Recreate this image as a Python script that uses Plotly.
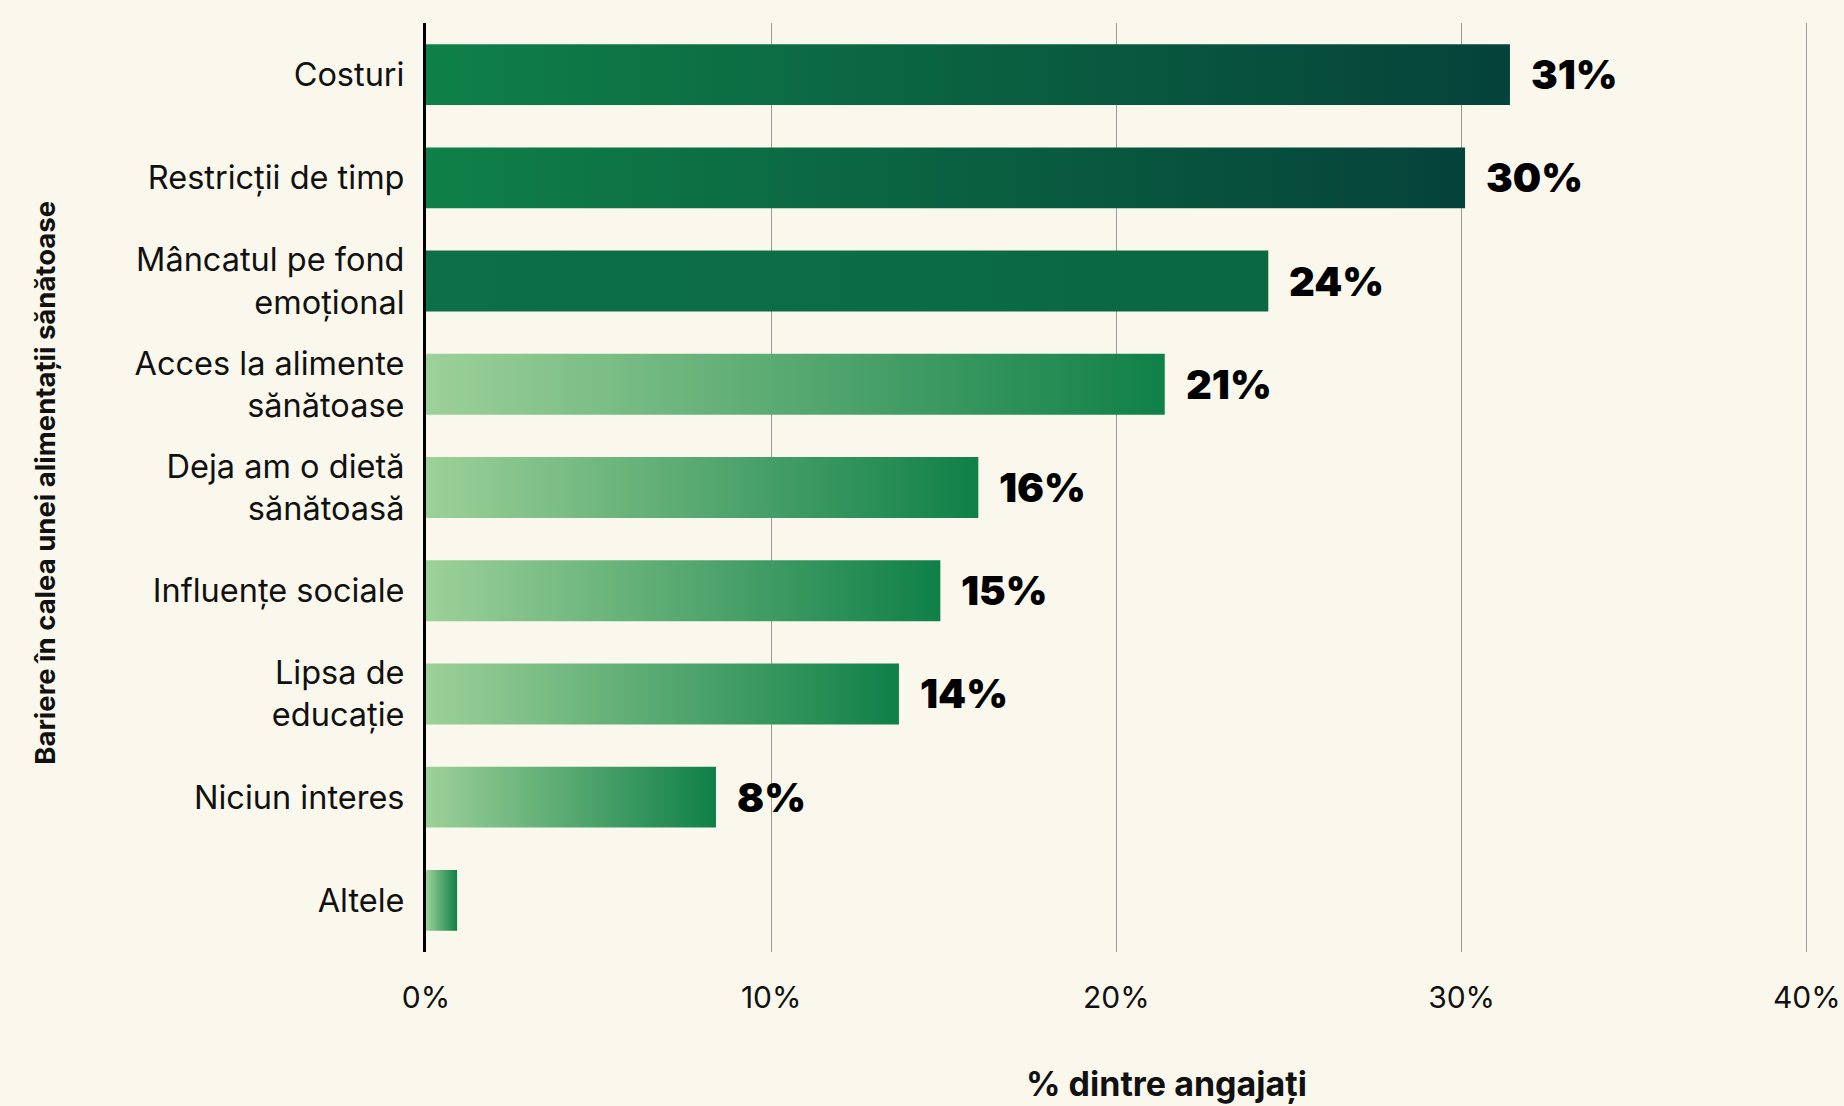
import plotly.graph_objects as go

# Barriers to healthy eating, share of employees (%)
categories = [
    "Costuri",
    "Restricții de timp",
    "Mâncatul pe fond<br>emoțional",
    "Acces la alimente<br>sănătoase",
    "Deja am o dietă<br>sănătoasă",
    "Influențe sociale",
    "Lipsa de<br>educație",
    "Niciun interes",
    "Altele",
]
values = [31.4, 30.1, 24.4, 21.4, 16.0, 14.9, 13.7, 8.4, 0.9]
show_value = [True, True, True, True, True, True, True, True, False]

x_ticks = [0, 10, 20, 30, 40]
x_tick_labels = ["0%", "10%", "20%", "30%", "40%"]

# gradient (left -> right) for each bar
gradients = [
    ("#0F8048", "#05423A"),
    ("#0F8048", "#05423A"),
    ("#0C6F47", "#0A6843"),
    ("#9DD199", "#0F8048"),
    ("#9DD199", "#0F8048"),
    ("#9DD199", "#0F8048"),
    ("#9DD199", "#0F8048"),
    ("#9DD199", "#0F8048"),
    ("#9DD199", "#0F8048"),
]

BG = "#FAF8EC"
HALF = 0.295  # half bar thickness in category units
TEXT = "#111111"

fig = go.Figure()

for i, (v, (c0, c1)) in enumerate(zip(values, gradients)):
    fig.add_trace(
        go.Scatter(
            x=[0, v, v, 0, 0],
            y=[i - HALF, i - HALF, i + HALF, i + HALF, i - HALF],
            mode="lines",
            fill="toself",
            line=dict(width=0, color="rgba(0,0,0,0)"),
            fillgradient=dict(type="horizontal", colorscale=[[0, c0], [1, c1]]),
            hoverinfo="skip",
            showlegend=False,
        )
    )

annotations = []
for i, (v, show) in enumerate(zip(values, show_value)):
    if not show:
        continue
    annotations.append(
        dict(
            x=v, y=i, xref="x", yref="y",
            text=f"{v:.0f}%",
            xanchor="left", yanchor="middle", xshift=19,
            showarrow=False,
            font=dict(family="Inter", size=40, weight=900, color="#000000"),
        )
    )

# axis titles
annotations.append(
    dict(
        x=-0.275, y=0.505, xref="paper", yref="paper",
        text="Bariere în calea unei alimentații sănătoase",
        textangle=-90, showarrow=False,
        xanchor="center", yanchor="middle",
        font=dict(family="Inter", size=27.5, weight=700, color=TEXT),
    )
)
annotations.append(
    dict(
        x=0.534, y=-0.142, xref="paper", yref="paper",
        text="% dintre angajați",
        showarrow=False, xanchor="center", yanchor="middle",
        font=dict(family="Inter", size=34, weight=700, color=TEXT),
    )
)

fig.update_layout(
    width=1844,
    height=1106,
    paper_bgcolor=BG,
    plot_bgcolor=BG,
    margin=dict(l=426, r=32, t=23, b=154),
    annotations=annotations,
    showlegend=False,
)

fig.update_xaxes(
    range=[0, 40.15],
    tickvals=x_ticks,
    ticktext=x_tick_labels,
    automargin=False,
    showgrid=True,
    gridcolor="#9A9A9A",
    gridwidth=1,
    zeroline=False,
    showline=False,
    ticks="",
    ticklabelstandoff=25,
    ticklabeloverflow="allow",
    tickfont=dict(family="Inter", size=30, color=TEXT),
)

fig.update_yaxes(
    range=[len(categories) - 0.5, -0.5],
    tickvals=list(range(len(categories))),
    ticktext=categories,
    automargin=False,
    showgrid=False,
    zeroline=False,
    showline=True,
    linecolor="#000000",
    linewidth=3,
    ticks="",
    ticklabelstandoff=12,
    tickfont=dict(family="Inter", size=32.5, color=TEXT),
)

fig.write_html("out.html")
